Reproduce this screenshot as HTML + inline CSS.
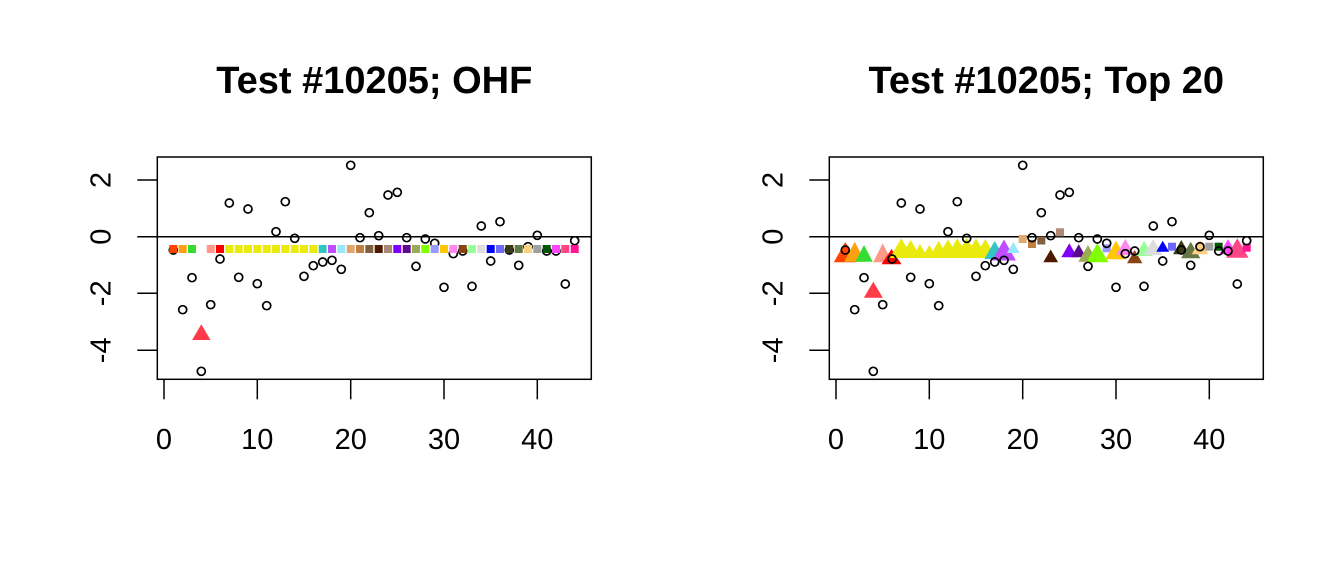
<!DOCTYPE html>
<html><head><meta charset="utf-8"><style>
html,body{margin:0;padding:0;background:#fff;}
svg{display:block;}
text{font-family:"Liberation Sans",Arial,sans-serif;fill:#000;}
</style></head><body>
<svg width="1344" height="576" viewBox="0 0 1344 576" xmlns="http://www.w3.org/2000/svg">
<rect width="1344" height="576" fill="#fff"/>
<text x="374.3" y="93" font-size="38" font-weight="bold" text-anchor="middle">Test #10205; OHF</text>
<text x="1046.3" y="93" font-size="38" font-weight="bold" text-anchor="middle">Test #10205; Top 20</text>
<g stroke="#000" stroke-width="1.5" fill="none">
<rect x="157.3" y="157" width="434" height="222.3"/>
<line x1="157.3" y1="236.7" x2="591.3" y2="236.7"/>
<line x1="164" y1="379.3" x2="164" y2="399.3"/>
<line x1="257.3" y1="379.3" x2="257.3" y2="399.3"/>
<line x1="350.7" y1="379.3" x2="350.7" y2="399.3"/>
<line x1="444" y1="379.3" x2="444" y2="399.3"/>
<line x1="537.3" y1="379.3" x2="537.3" y2="399.3"/>
<line x1="137.3" y1="180" x2="157.3" y2="180"/>
<line x1="137.3" y1="236.7" x2="157.3" y2="236.7"/>
<line x1="137.3" y1="293.3" x2="157.3" y2="293.3"/>
<line x1="137.3" y1="350.3" x2="157.3" y2="350.3"/>
<rect x="829.3" y="157" width="434" height="222.3"/>
<line x1="829.3" y1="236.7" x2="1263.3" y2="236.7"/>
<line x1="836" y1="379.3" x2="836" y2="399.3"/>
<line x1="929.3" y1="379.3" x2="929.3" y2="399.3"/>
<line x1="1022.7" y1="379.3" x2="1022.7" y2="399.3"/>
<line x1="1116" y1="379.3" x2="1116" y2="399.3"/>
<line x1="1209.3" y1="379.3" x2="1209.3" y2="399.3"/>
<line x1="809.3" y1="180" x2="829.3" y2="180"/>
<line x1="809.3" y1="236.7" x2="829.3" y2="236.7"/>
<line x1="809.3" y1="293.3" x2="829.3" y2="293.3"/>
<line x1="809.3" y1="350.3" x2="829.3" y2="350.3"/>
</g>
<g font-size="29" text-anchor="middle">
<text x="164" y="449">0</text>
<text x="257.3" y="449">10</text>
<text x="350.7" y="449">20</text>
<text x="444" y="449">30</text>
<text x="537.3" y="449">40</text>
<text transform="translate(110.5,180) rotate(-90)">2</text>
<text transform="translate(110.5,236.7) rotate(-90)">0</text>
<text transform="translate(110.5,293.3) rotate(-90)">-2</text>
<text transform="translate(110.5,350.3) rotate(-90)">-4</text>
<text x="836" y="449">0</text>
<text x="929.3" y="449">10</text>
<text x="1022.7" y="449">20</text>
<text x="1116" y="449">30</text>
<text x="1209.3" y="449">40</text>
<text transform="translate(782.5,180) rotate(-90)">2</text>
<text transform="translate(782.5,236.7) rotate(-90)">0</text>
<text transform="translate(782.5,293.3) rotate(-90)">-2</text>
<text transform="translate(782.5,350.3) rotate(-90)">-4</text>
</g>
<g id="pts" stroke="#000" stroke-width="1.7" fill="none">
<circle cx="173.3" cy="250" r="4"/>
<circle cx="182.7" cy="309.7" r="4"/>
<circle cx="192" cy="277.7" r="4"/>
<circle cx="201.3" cy="371.3" r="4"/>
<circle cx="210.7" cy="304.7" r="4"/>
<circle cx="220" cy="259" r="4"/>
<circle cx="229.3" cy="203" r="4"/>
<circle cx="238.7" cy="277.3" r="4"/>
<circle cx="248" cy="209" r="4"/>
<circle cx="257.3" cy="283.7" r="4"/>
<circle cx="266.7" cy="305.7" r="4"/>
<circle cx="276" cy="231.7" r="4"/>
<circle cx="285.3" cy="201.7" r="4"/>
<circle cx="294.7" cy="238.3" r="4"/>
<circle cx="304" cy="276.3" r="4"/>
<circle cx="313.3" cy="265.7" r="4"/>
<circle cx="322.7" cy="262" r="4"/>
<circle cx="332" cy="260.3" r="4"/>
<circle cx="341.3" cy="269.3" r="4"/>
<circle cx="350.7" cy="165.3" r="4"/>
<circle cx="360" cy="237.7" r="4"/>
<circle cx="369.3" cy="212.7" r="4"/>
<circle cx="378.7" cy="235.7" r="4"/>
<circle cx="388" cy="195" r="4"/>
<circle cx="397.3" cy="192.3" r="4"/>
<circle cx="406.7" cy="237.7" r="4"/>
<circle cx="416" cy="266.3" r="4"/>
<circle cx="425.3" cy="239" r="4"/>
<circle cx="434.7" cy="243.3" r="4"/>
<circle cx="444" cy="287.3" r="4"/>
<circle cx="453.3" cy="253.7" r="4"/>
<circle cx="462.7" cy="251" r="4"/>
<circle cx="472" cy="286.3" r="4"/>
<circle cx="481.3" cy="226" r="4"/>
<circle cx="490.7" cy="261" r="4"/>
<circle cx="500" cy="221.7" r="4"/>
<circle cx="509.3" cy="250" r="4"/>
<circle cx="518.7" cy="265.3" r="4"/>
<circle cx="528" cy="246.7" r="4"/>
<circle cx="537.3" cy="235.3" r="4"/>
<circle cx="546.7" cy="251" r="4"/>
<circle cx="556" cy="251" r="4"/>
<circle cx="565.3" cy="284" r="4"/>
<circle cx="574.7" cy="240.7" r="4"/>
</g>
<g>
<rect x="169.3" y="245" width="8" height="8" fill="#FF4500"/>
<rect x="178.7" y="245" width="8" height="8" fill="#FFA010"/>
<rect x="188" y="245" width="8" height="8" fill="#33DD33"/>
<rect x="206.7" y="245" width="8" height="8" fill="#FF9A8A"/>
<rect x="216" y="245" width="8" height="8" fill="#FF0000"/>
<rect x="225.3" y="245" width="8" height="8" fill="#EAEA0C"/>
<rect x="234.7" y="245" width="8" height="8" fill="#EAEA0C"/>
<rect x="244" y="245" width="8" height="8" fill="#EAEA0C"/>
<rect x="253.3" y="245" width="8" height="8" fill="#EAEA0C"/>
<rect x="262.7" y="245" width="8" height="8" fill="#EAEA0C"/>
<rect x="272" y="245" width="8" height="8" fill="#EAEA0C"/>
<rect x="281.3" y="245" width="8" height="8" fill="#EAEA0C"/>
<rect x="290.7" y="245" width="8" height="8" fill="#EAEA0C"/>
<rect x="300" y="245" width="8" height="8" fill="#EAEA0C"/>
<rect x="309.3" y="245" width="8" height="8" fill="#EAEA0C"/>
<rect x="318.7" y="245" width="8" height="8" fill="#33C4C4"/>
<rect x="328" y="245" width="8" height="8" fill="#C04DFF"/>
<rect x="337.3" y="245" width="8" height="8" fill="#99E6FF"/>
<rect x="346.7" y="245" width="8" height="8" fill="#E0A870"/>
<rect x="356" y="245" width="8" height="8" fill="#C08040"/>
<rect x="365.3" y="245" width="8" height="8" fill="#7F6040"/>
<rect x="374.7" y="245" width="8" height="8" fill="#4D1A00"/>
<rect x="384" y="245" width="8" height="8" fill="#B08878"/>
<rect x="393.3" y="245" width="8" height="8" fill="#8000FF"/>
<rect x="402.7" y="245" width="8" height="8" fill="#5C0A8C"/>
<rect x="412" y="245" width="8" height="8" fill="#9AAA55"/>
<rect x="421.3" y="245" width="8" height="8" fill="#80FF00"/>
<rect x="430.7" y="245" width="8" height="8" fill="#9999FF"/>
<rect x="440" y="245" width="8" height="8" fill="#FFC800"/>
<rect x="449.3" y="245" width="8" height="8" fill="#FF88EE"/>
<rect x="458.7" y="245" width="8" height="8" fill="#8B4513"/>
<rect x="468" y="245" width="8" height="8" fill="#99FF99"/>
<rect x="477.3" y="245" width="8" height="8" fill="#DDDDDD"/>
<rect x="486.7" y="245" width="8" height="8" fill="#0000FF"/>
<rect x="496" y="245" width="8" height="8" fill="#6A6AFF"/>
<rect x="505.3" y="245" width="8" height="8" fill="#3A3A1A"/>
<rect x="514.7" y="245" width="8" height="8" fill="#667744"/>
<rect x="524" y="245" width="8" height="8" fill="#FFD080"/>
<rect x="533.3" y="245" width="8" height="8" fill="#A0A0A0"/>
<rect x="542.7" y="245" width="8" height="8" fill="#005500"/>
<rect x="552" y="245" width="8" height="8" fill="#FF44FF"/>
<rect x="561.3" y="245" width="8" height="8" fill="#FF4488"/>
<rect x="570.7" y="245" width="8" height="8" fill="#FF1493"/>
<polygon points="201.3,324.3 210.5,340 192.1,340" fill="#FF3B4A"/>
</g>
<g>
<polygon points="845.3,242 856.8,262.3 833.8,262.3" fill="#FF4500"/>
<polygon points="854.7,241.7 865.2,261.7 844.2,261.7" fill="#FFA010"/>
<polygon points="864,245 872.7,261.7 855.3,261.7" fill="#33DD33"/>
<polygon points="873.3,281.7 882.8,297.7 863.8,297.7" fill="#FF3B4A"/>
<polygon points="882.7,243.3 892.2,262.3 873.2,262.3" fill="#FF9A8A"/>
<polygon points="891.5,249 901.5,264.3 881.5,264.3" fill="#FF0000"/>
<polygon points="901.3,238.3 912.8,258 889.8,258" fill="#EAEA0C"/>
<polygon points="910.7,240 921.2,258 900.2,258" fill="#EAEA0C"/>
<polygon points="920,244 928,258 912,258" fill="#EAEA0C"/>
<polygon points="929.3,245 936.8,258 921.8,258" fill="#EAEA0C"/>
<polygon points="938.7,241 948.5,258 928.9,258" fill="#EAEA0C"/>
<polygon points="948,239.3 958.7,258 937.3,258" fill="#EAEA0C"/>
<polygon points="957.3,238.3 968.5,258 946.1,258" fill="#EAEA0C"/>
<polygon points="966.7,237.7 978.2,258 955.2,258" fill="#EAEA0C"/>
<polygon points="976,238.3 987.3,258 964.7,258" fill="#EAEA0C"/>
<polygon points="985.3,239 996.3,258 974.3,258" fill="#EAEA0C"/>
<polygon points="994.7,241 1005.1,259 984.3,259" fill="#33C4C4"/>
<polygon points="1004,239.5 1016,260.5 992,260.5" fill="#C04DFF"/>
<polygon points="1013.3,242 1019.7,253 1006.9,253" fill="#99E6FF"/>
<rect x="1018.7" y="235" width="8" height="8" fill="#E0A870"/>
<rect x="1028" y="240" width="8" height="8" fill="#C08040"/>
<rect x="1037.3" y="236.5" width="8" height="8" fill="#7F6040"/>
<polygon points="1050.7,249.5 1058.1,262.3 1043.3,262.3" fill="#4D1A00"/>
<rect x="1056" y="228.3" width="8" height="8" fill="#B08878"/>
<polygon points="1069.3,243.3 1077.3,257.3 1061.3,257.3" fill="#8000FF"/>
<polygon points="1078.7,244.3 1086.2,257.3 1071.2,257.3" fill="#5C0A8C"/>
<polygon points="1088,245 1097.6,261.7 1078.4,261.7" fill="#9AAA55"/>
<polygon points="1097.3,243.3 1108.3,262.3 1086.3,262.3" fill="#80FF00"/>
<rect x="1102.7" y="244.3" width="8" height="8" fill="#9999FF"/>
<polygon points="1116,240.7 1126.7,259.3 1105.3,259.3" fill="#FFC800"/>
<polygon points="1125.3,239 1134.5,255 1116.1,255" fill="#FF88EE"/>
<polygon points="1134.7,250 1142.4,263.3 1127,263.3" fill="#8B4513"/>
<polygon points="1144,240.7 1152.8,256 1135.2,256" fill="#99FF99"/>
<polygon points="1153.3,239 1162.5,255 1144.1,255" fill="#DDDDDD"/>
<polygon points="1162.7,240.7 1169.1,251.7 1156.3,251.7" fill="#0000FF"/>
<rect x="1168" y="242.7" width="8" height="8" fill="#6A6AFF"/>
<polygon points="1181.3,240 1189.6,254.3 1173,254.3" fill="#3A3A1A"/>
<polygon points="1190.7,241.7 1200.3,258.3 1181.1,258.3" fill="#667744"/>
<polygon points="1200,240 1208.3,254.3 1191.7,254.3" fill="#FFD080"/>
<rect x="1205.3" y="242.7" width="8" height="8" fill="#A0A0A0"/>
<rect x="1214.7" y="242.7" width="8" height="8" fill="#005500"/>
<polygon points="1228,239.3 1236.7,254.3 1219.3,254.3" fill="#FF44FF"/>
<polygon points="1237.3,238.3 1248.5,257.7 1226.1,257.7" fill="#FF4488"/>
<rect x="1242.7" y="243.7" width="8" height="8" fill="#FF1493"/>
</g>
<use href="#pts" x="672" y="0"/>
</svg>
</body></html>
